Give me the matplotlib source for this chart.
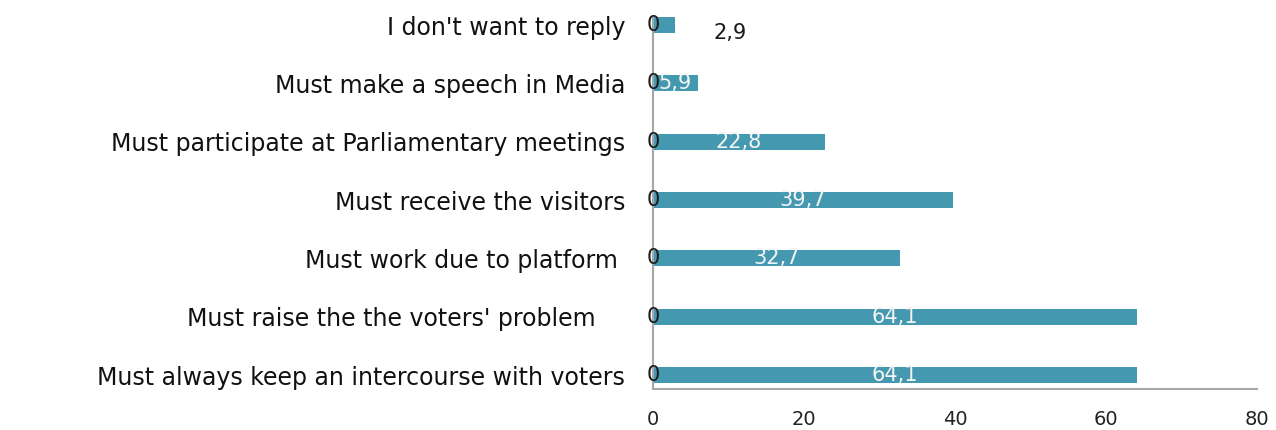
import matplotlib
matplotlib.use("Agg")
import matplotlib.pyplot as plt
import numpy as np

# Survey answers, listed from the bottom row to the top row
categories = [
    "Must always keep an intercourse with voters",
    "Must raise the the voters' problem    ",
    "Must work due to platform ",
    "Must receive the visitors",
    "Must participate at Parliamentary meetings",
    "Must make a speech in Media",
    "I don't want to reply",
]
shares = [64.1, 64.1, 32.7, 39.7, 22.8, 5.9, 2.9]
baseline = [0, 0, 0, 0, 0, 0, 0]
x_ticks = [0, 20, 40, 60, 80]

bar_color = "#4499B0"
text_dark = "#1a1a1a"

fig = plt.figure(figsize=(12.76, 4.30), dpi=100)
ax = fig.add_axes([0.5118, 0.0953, 0.9851 - 0.5118, 0.9605 - 0.0953])

y = np.arange(len(categories))
bars = ax.barh(y, shares, height=0.275, color=bar_color, zorder=2)

ax.set_xlim(0, 80)
ax.set_ylim(-0.24, 6.14)
ax.set_xticks(x_ticks)
ax.set_xticklabels([str(t) for t in x_ticks], fontsize=14, color="#222222")
ax.set_yticks(y)
ax.set_yticklabels(categories, fontsize=17, color="#111111")
ax.tick_params(axis="y", length=0, pad=20)
ax.tick_params(axis="x", length=0, pad=15)

for side in ("top", "right"):
    ax.spines[side].set_visible(False)
for side in ("left", "bottom"):
    ax.spines[side].set_color("#a6a6a6")
    ax.spines[side].set_linewidth(1.5)

def fmt(v):
    return f"{v:.1f}".replace(".", ",")

# value labels: centred inside the bars, except the smallest one placed beside it
for yi, v in zip(y, shares):
    if v < 4:
        ax.text(v + 7.3, yi - 0.14, fmt(v), ha="center", va="center",
                fontsize=15, color=text_dark, zorder=4)
    else:
        ax.text(v / 2, yi, fmt(v), ha="center", va="center",
                fontsize=15, color="#f4f4f4", zorder=4)

# labels of the zero-valued series at the base of every row
for yi, z in zip(y, baseline):
    ax.text(z, yi, str(z), ha="center", va="center", fontsize=15,
            color=text_dark, zorder=5)

fig.savefig("out.png", dpi=100)
